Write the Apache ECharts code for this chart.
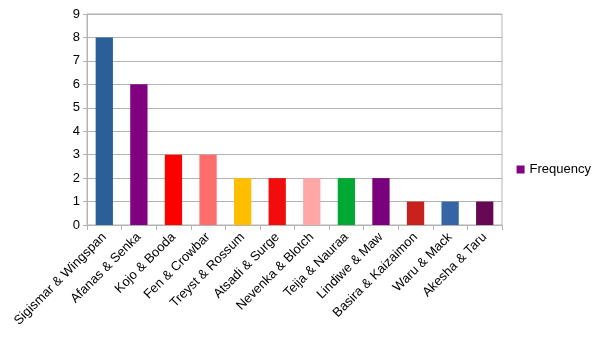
<!DOCTYPE html>
<html><head><meta charset="utf-8">
<script src="https://cdn.jsdelivr.net/npm/echarts@6/dist/echarts.min.js"></script>
<style>html,body{margin:0;padding:0;background:#fff}#c{width:604px;height:340px}</style>
</head><body><div id="c"></div>
<script>
var categories = ["Sigismar & Wingspan","Afanas & Senka","Kojo & Booda","Fen & Crowbar","Treyst & Rossum","Atsadi & Surge","Nevenka & Blotch","Teija & Nauraa","Lindiwe & Maw","Basira & Kaizaimon","Waru & Mack","Akesha & Taru"];
var values = [8,6,3,3,2,2,2,2,2,1,1,1];
var barColors = ["#2a6099","#800080","#ff0000","#ff6d6d","#ffbf00","#f10d0c","#ffa6a6","#00a933","#7b007b","#c9211e","#3465a4","#650953"];
var yTicks = [0,1,2,3,4,5,6,7,8,9];

var chart = echarts.init(document.getElementById('c'));
var font = 'Liberation Sans';
chart.setOption({
  animation:false,
  textStyle:{fontFamily:font},
  grid:{left:87,top:14,width:415,height:211,show:true,borderColor:'#b3b3b3',borderWidth:1,backgroundColor:'transparent'},
  legend:{right:8,top:158,orient:'vertical',itemWidth:8,itemHeight:8,itemGap:6,icon:'rect',
    textStyle:{fontFamily:font,fontSize:13,color:'#000'},data:['Frequency']},
  xAxis:{type:'category',data:categories,
    axisLine:{lineStyle:{color:'#b3b3b3'}},
    axisTick:{show:true,length:5,lineStyle:{color:'#b3b3b3'}},
    axisLabel:{rotate:45,interval:0,color:'#000',fontSize:13,fontFamily:font,margin:10}},
  yAxis:{type:'value',min:yTicks[0],max:yTicks[yTicks.length-1],interval:1,
    axisLine:{show:true,lineStyle:{color:'#b3b3b3'}},
    axisTick:{show:true,length:4,lineStyle:{color:'#b3b3b3'}},
    splitLine:{lineStyle:{color:'#b3b3b3'}},
    axisLabel:{color:'#000',fontSize:13,fontFamily:font,margin:7}},
  series:[{name:'Frequency',type:'bar',barWidth:'50%',
    itemStyle:{color:'#800080'},
    data:values.map(function(v,i){return {value:v,itemStyle:{color:barColors[i]}};})}]
});
</script></body></html>
